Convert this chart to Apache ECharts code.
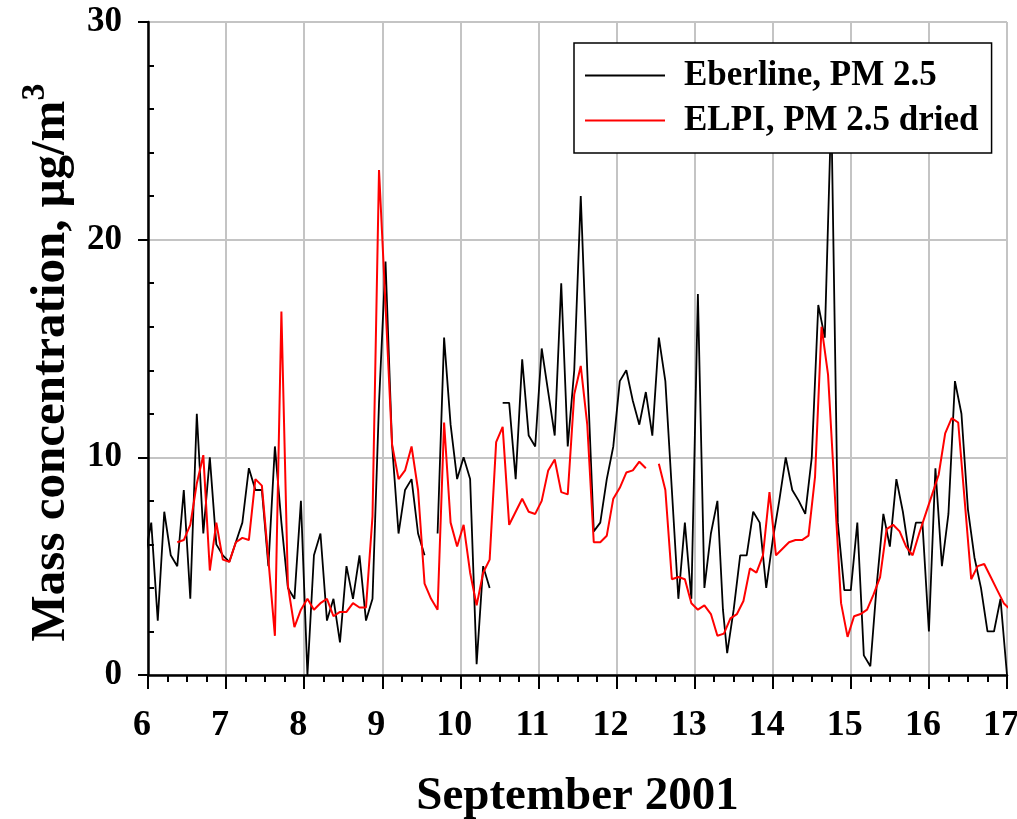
<!DOCTYPE html>
<html>
<head>
<meta charset="utf-8">
<script src="https://cdn.jsdelivr.net/npm/echarts@6/dist/echarts.min.js"></script>
<style>html,body{margin:0;padding:0;background:#fff}#c{width:1017px;height:819px}</style>
</head>
<body>
<div id="c"></div>
<script>
// Hours since 6 September 2001 00:00
var blackHours = [-1,1,3,5,7,9,11,13,15,17,19,21,23,25,27,29,31,33,35,37,39,41,43,45,47,49,51,53,55,57,59,61,63,65,67,69,71,73,75,77,79,81,83,85,87,89,91,93,95,97,99,101,103,105,107,109,111,113,115,117,119,121,123,125,127,129,131,133,135,137,139,141,143,145,147,149,151,153,155,157,159,161,163,165,167,169,171,173,175,176.7,178,180,182,184,186,188,190,192,194,196,198,200,202,204,206,208,210,212,214,216,218,220,222,224,226,228,230,232,234,236,238,240,242,244,246,248,250,252,254,256,258,260,262,264];
var blackValues = [5.4,7.0,2.5,7.5,5.5,5.0,8.5,3.5,12.0,6.5,10.0,6.0,5.5,5.2,6.1,7.0,9.5,8.5,8.5,5.0,10.5,7.0,4.0,3.5,8.0,0,5.5,6.5,2.5,3.5,1.5,5.0,3.5,5.5,2.5,3.5,12.5,19.0,10.6,6.5,8.5,9.0,6.5,5.5,null,6.5,15.5,11.5,9.0,10.0,9.0,0.5,5.0,4.0,null,12.5,12.5,9.0,14.5,11.0,10.5,15.0,13.0,11.0,18.0,10.5,14.0,22.0,14.0,6.6,7.0,9.0,10.5,13.5,14.0,12.6,11.5,13.0,11.0,15.5,13.5,8.5,3.5,7.0,3.5,17.5,4.0,6.5,8.0,3.0,1.0,3.0,5.5,5.5,7.5,7.0,4.0,6.2,8.0,10.0,8.5,8.0,7.4,10.0,17.0,15.5,26.0,7.0,3.9,3.9,7.0,0.9,0.4,4.2,7.4,5.9,9.0,7.5,5.5,7.0,7.0,2.0,9.5,5.0,7.4,13.5,12.0,7.6,5.4,4.0,2.0,2.0,3.5,0];
var redHours = [9,11,13,15,17,19,21,23,25,27,29,31,33,35,37,39,41,43,45,47,49,51,53,55,57,59,61,63,65,67,69,71,73,75,77,79,81,83,85,87,89,91,93,95,97,99,101,103,105,107,109,111,113,115,117,119,121,123,125,127,129,131,133,135,137,139,141,143,145,147,149,151,153,155,157,159,161,163,165,167,169,171,173,175,177,179,181,183,185,187,189,191,193,195,197,199,201,203,205,207,209,211,213,215,217,219,221,223,225,227,229,231,233,235,237,239,241,243,245,247,249,251,253,255,257,259,261,263,265];
var redValues = [6.1,6.2,6.9,8.8,10.1,4.8,7.0,5.3,5.2,6.1,6.3,6.2,9.0,8.7,5.3,1.8,16.7,4.1,2.2,3.0,3.5,3.0,3.3,3.5,2.7,2.9,2.9,3.3,3.1,3.1,7.3,23.2,17.0,10.6,9.0,9.4,10.5,8.5,4.2,3.5,3.0,11.6,7.0,5.9,6.9,4.7,3.2,4.7,5.3,10.7,11.4,6.9,7.5,8.1,7.5,7.4,8.0,9.4,9.9,8.4,8.3,12.9,14.2,11.5,6.1,6.1,6.4,8.1,8.6,9.3,9.4,9.8,9.5,null,9.7,8.5,4.4,4.5,4.4,3.3,3.0,3.2,2.8,1.8,1.9,2.6,2.8,3.4,4.9,4.7,5.5,8.4,5.5,5.8,6.1,6.2,6.2,6.4,9.1,16.0,13.8,8.5,3.3,1.75,2.7,2.8,3.0,3.7,4.5,6.7,6.9,6.6,5.9,5.5,6.5,7.4,8.3,9.2,11.1,11.8,11.6,8.0,4.4,5.0,5.1,4.5,3.9,3.3,3.0];
var seriesNames = ['Eberline, PM 2.5', 'ELPI, PM 2.5 dried'];
var xTickDays = [6,7,8,9,10,11,12,13,14,15,16,17];
var yTicks = [0,10,20,30];

function pairs(hours, values) {
  return hours.map(function (h, i) { return [6 + h / 24, values[i]]; });
}
var FONT = 'Liberation Serif';
var chart = echarts.init(document.getElementById('c'), null, {renderer: 'canvas'});
chart.setOption({
  animation: false,
  backgroundColor: '#fff',
  grid: {left: 148, right: 10, top: 22, bottom: 144, containLabel: false, outerBoundsMode: 'none'},
  legend: {
    orient: 'vertical', left: 574, top: 43,
    data: seriesNames,
    icon: 'rect',
    itemWidth: 80, itemHeight: 2, itemGap: 10,
    padding: [15, 13, 15, 11],
    backgroundColor: '#fff', borderColor: '#000', borderWidth: 1.5,
    textStyle: {fontFamily: FONT, fontWeight: 'bold', fontSize: 35, color: '#000', padding: [0, 0, 0, 14]}
  },
  xAxis: {
    type: 'value', min: xTickDays[0], max: xTickDays[xTickDays.length - 1], interval: 1,
    name: 'September 2001', nameLocation: 'middle', nameGap: 98,
    nameTextStyle: {fontFamily: FONT, fontWeight: 'bold', fontSize: 47, color: '#000'},
    axisLine: {show: true, onZero: false, lineStyle: {color: '#000', width: 2.5}},
    axisTick: {show: true, inside: false, length: 14, lineStyle: {color: '#000', width: 2}},
    minorTick: {show: true, splitNumber: 4, length: 7, lineStyle: {color: '#000', width: 2}},
    axisLabel: {fontFamily: FONT, fontWeight: 'bold', fontSize: 36, color: '#000', margin: 33, padding: [0, 12, 0, 0]},
    splitLine: {show: true, lineStyle: {color: '#c4c4c4', width: 2}}
  },
  yAxis: [{
    type: 'value', min: yTicks[0], max: yTicks[yTicks.length - 1], interval: 10,
    name: '{a|Mass concentration, μg/m}{s|3}', nameLocation: 'middle', nameGap: 72, nameRotate: 90,
    nameTextStyle: {
      padding: [0, 28, 0, 0],
      rich: {
        a: {fontFamily: FONT, fontWeight: 'bold', fontSize: 49, color: '#000', lineHeight: 58, verticalAlign: 'bottom'},
        s: {fontFamily: FONT, fontWeight: 'bold', fontSize: 34, color: '#000', lineHeight: 34, verticalAlign: 'top'}
      }
    },
    axisLine: {show: true, lineStyle: {color: '#000', width: 2.5}},
    axisTick: {show: true, inside: false, length: 10, lineStyle: {color: '#000', width: 2}},
    minorTick: {show: false},
    axisLabel: {fontFamily: FONT, fontWeight: 'bold', fontSize: 35, color: '#000', margin: 26},
    splitLine: {show: true, lineStyle: {color: '#c4c4c4', width: 2}}
  }, {
    type: 'value', min: yTicks[0], max: yTicks[yTicks.length - 1], interval: 10, position: 'left', offset: 0,
    axisLine: {show: false}, axisLabel: {show: false}, splitLine: {show: false},
    axisTick: {show: false, inside: true},
    minorTick: {show: true, splitNumber: 5, length: 6, lineStyle: {color: '#000', width: 2}}
  }],
  series: [{
    name: seriesNames[0], type: 'line', data: pairs(blackHours, blackValues),
    showSymbol: false, symbol: 'none', connectNulls: false, clip: true,
    lineStyle: {color: '#000', width: 1.8}, itemStyle: {color: '#000'}, z: 2
  }, {
    name: seriesNames[1], type: 'line', data: pairs(redHours, redValues),
    showSymbol: false, symbol: 'none', connectNulls: false, clip: true,
    lineStyle: {color: '#ff0000', width: 2}, itemStyle: {color: '#ff0000'}, z: 3
  }]
});
</script>
</body>
</html>
